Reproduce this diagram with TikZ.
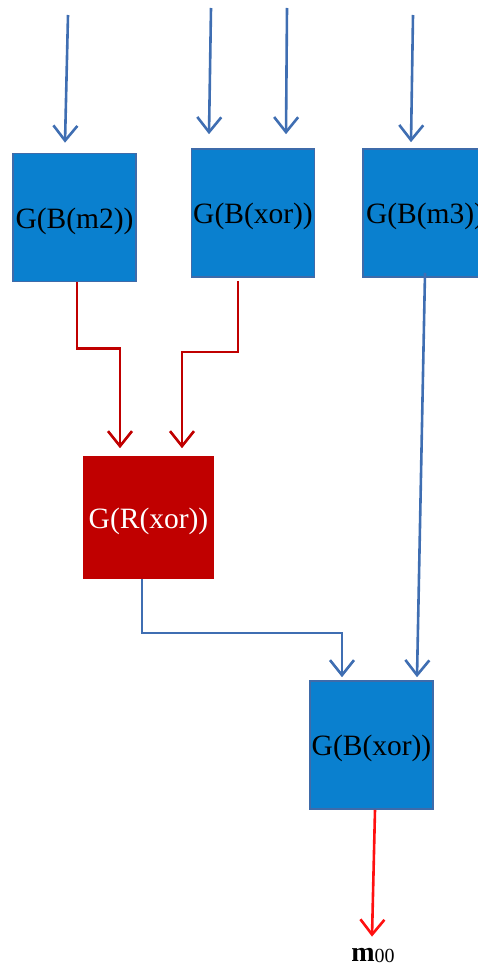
\documentclass[tikz,border=0pt]{standalone}
\usepackage{fontspec}
\setmainfont{Liberation Serif}
\usetikzlibrary{arrows.meta}
\definecolor{gblue}{HTML}{0A80CF}
\definecolor{gedge}{HTML}{3E6BAA}
\definecolor{wire}{HTML}{3F6EB2}
\definecolor{gred}{HTML}{C00000}
\definecolor{hot}{HTML}{FF1010}
\tikzset{
  gate/.style={rectangle, draw=gedge, line width=1.6pt, fill=gblue,
    minimum width=123pt, minimum height=128pt, inner sep=0pt,
    text height=27.6pt, text depth=6.2pt,
    font=\fontsize{29.5}{32}\selectfont},
  redgate/.style={gate, draw=gred, fill=gred, text=white,
    minimum width=129pt, minimum height=121pt},
  tip/.style={-{Straight Barb[length=15pt,width=24pt]}},
  bwire/.style={tip, draw=wire, line width=2.6pt},
  rwire/.style={tip, draw=gred, line width=2.6pt},
  owire/.style={tip, draw=hot, line width=2.6pt}
}
\begin{document}
\begin{tikzpicture}[x=1pt,y=-1pt]
  \useasboundingbox (0,0) rectangle (478,968);
  \clip (0,0) rectangle (478,968);

  % gates
  \node[gate] (b1) at (74.5,217.5) {G(B(m2))};
  \node[gate] (b2) at (253,213) {G(B(xor))};
  \node[gate, minimum width=124pt] (b3) at (425,213) {G(B(m3))};
  \node[redgate] (r) at (148.5,517.5) {G(R(xor))};
  \node[gate] (b5) at (371.5,745) {G(B(xor))};
  \node[font=\fontsize{28}{30}\selectfont, inner sep=0pt, anchor=base]
    (out) at (373,961)
    {\textbf{m}{\fontsize{20}{22}\selectfont\raisebox{-1pt}{00}}};

  % free ends of the inputs
  \coordinate (in1) at (68,15);
  \coordinate (in2) at (211,8);
  \coordinate (in3) at (287,8);
  \coordinate (in4) at (413,15);

  % inputs
  \draw[bwire] (in1) -- ([xshift=-9.5pt,yshift=10pt]b1.north);
  \draw[bwire] (in2) -- ([xshift=-44pt,yshift=14pt]b2.north);
  \draw[bwire] (in3) -- ([xshift=33pt,yshift=14pt]b2.north);
  \draw[bwire] (in4) -- ([xshift=-14pt,yshift=6pt]b3.north);

  % red wires into the red gate
  \draw[rwire] ([xshift=2.5pt]b1.south) -- ++(0,66)
    -| ([xshift=-28.5pt,yshift=8pt]r.north);
  \draw[rwire] ([xshift=-15pt,yshift=-3pt]b2.south) -- ++(0,71)
    -| ([xshift=33.5pt,yshift=8pt]r.north);

  % into the final gate
  \draw[bwire] ([xshift=-6.5pt]r.south) -- ++(0,54)
    -| ([xshift=-29.5pt,yshift=3pt]b5.north);
  \draw[bwire] ([yshift=5pt]b3.south) -- ([xshift=45.5pt,yshift=3pt]b5.north);

  % output
  \draw[owire] ([xshift=3.5pt]b5.south) -- ([xshift=-1pt,yshift=11pt]out.north);
\end{tikzpicture}
\end{document}
